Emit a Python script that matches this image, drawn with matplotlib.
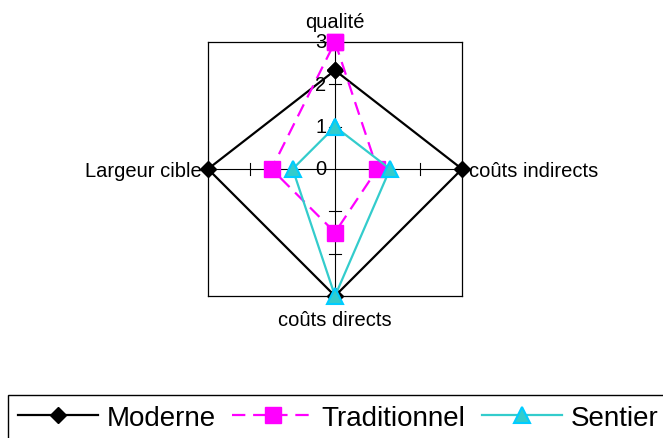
import numpy as np
from matplotlib import pyplot as plt

plt.rcParams['font.family'] = ['Liberation Sans', 'DejaVu Sans']

categories = ['qualité', 'coûts indirects', 'coûts directs', 'Largeur cible']
moderne = [2.33, 3, 3, 3]
traditionnel = [3, 1, 1.5, 1.5]
sentier = [1, 1.3, 3, 1]
tick_values = [0, 1, 2, 3]
r_max = 3

# spokes clockwise from the top, like the Excel radar
angles = np.arange(len(categories)) * 2 * np.pi / len(categories)


def to_xy(vals):
    vals = np.asarray(vals + vals[:1], dtype=float)
    a = np.concatenate([angles, angles[:1]])
    return vals * np.sin(a), vals * np.cos(a)


fig = plt.figure(figsize=(6.63, 4.39), dpi=100)
ax = fig.add_axes([208 / 663, 1 - 297 / 439, 254 / 663, 254 / 439])
ax.set_xlim(-r_max, r_max)
ax.set_ylim(-r_max, r_max)
ax.set_xticks([])
ax.set_yticks([])
for s in ax.spines.values():
    s.set_linewidth(0.9)
    s.set_color('black')

# spokes and small ticks
for a in angles:
    dx, dy = np.sin(a), np.cos(a)
    ax.plot([0, r_max * dx], [0, r_max * dy], color='black', lw=0.8, zorder=1)
    for t in tick_values[1:-1]:
        px, py = -dy * 0.14, dx * 0.14
        ax.plot([t * dx - px, t * dx + px], [t * dy - py, t * dy + py],
                color='black', lw=0.8, zorder=1)

x, y = to_xy(moderne)
ax.plot(x, y, '-', color='black', lw=1.6, marker='D', ms=8.5,
        mfc='black', mec='black', clip_on=False, zorder=3, label='Moderne')
x, y = to_xy(traditionnel)
ax.plot(x, y, color='#FF00FF', lw=1.6, dashes=(6, 3.5), marker='s', ms=11,
        mfc='#FF00FF', mec='#FF00FF', clip_on=False, zorder=4, label='Traditionnel')
x, y = to_xy(sentier)
ax.plot(x, y, '-', color='#33CCCC', lw=1.6, marker='^', ms=11,
        mfc='#33CCCC', mec='#00CCFF', mew=1.5, clip_on=False, zorder=5, label='Sentier')

# radial tick labels on the top spoke
for t in tick_values:
    ax.text(-0.2, t, str(t), ha='right', va='center', fontsize=14.5, zorder=6)

# category labels
ax.text(0, 3.36, categories[0], ha='center', va='baseline', fontsize=14.5)
ax.text(3.17, 0, categories[1], ha='left', va='center_baseline', fontsize=14.5)
ax.text(0, -3.33, categories[2], ha='center', va='top', fontsize=14.5)
ax.text(-3.15, 0, categories[3], ha='right', va='center_baseline', fontsize=14.5)

handles, labels = ax.get_legend_handles_labels()
leg = fig.legend(handles, labels, loc='upper left',
                 bbox_to_anchor=(8 / 663, 1 - 396 / 439), ncol=3,
                 fontsize=20, frameon=True, fancybox=False,
                 edgecolor='black', framealpha=1, borderpad=0.35,
                 handlelength=2.9, handletextpad=0.3, columnspacing=0.6,
                 borderaxespad=0)
leg.get_frame().set_linewidth(1)

fig.savefig('out.png', dpi=100)
